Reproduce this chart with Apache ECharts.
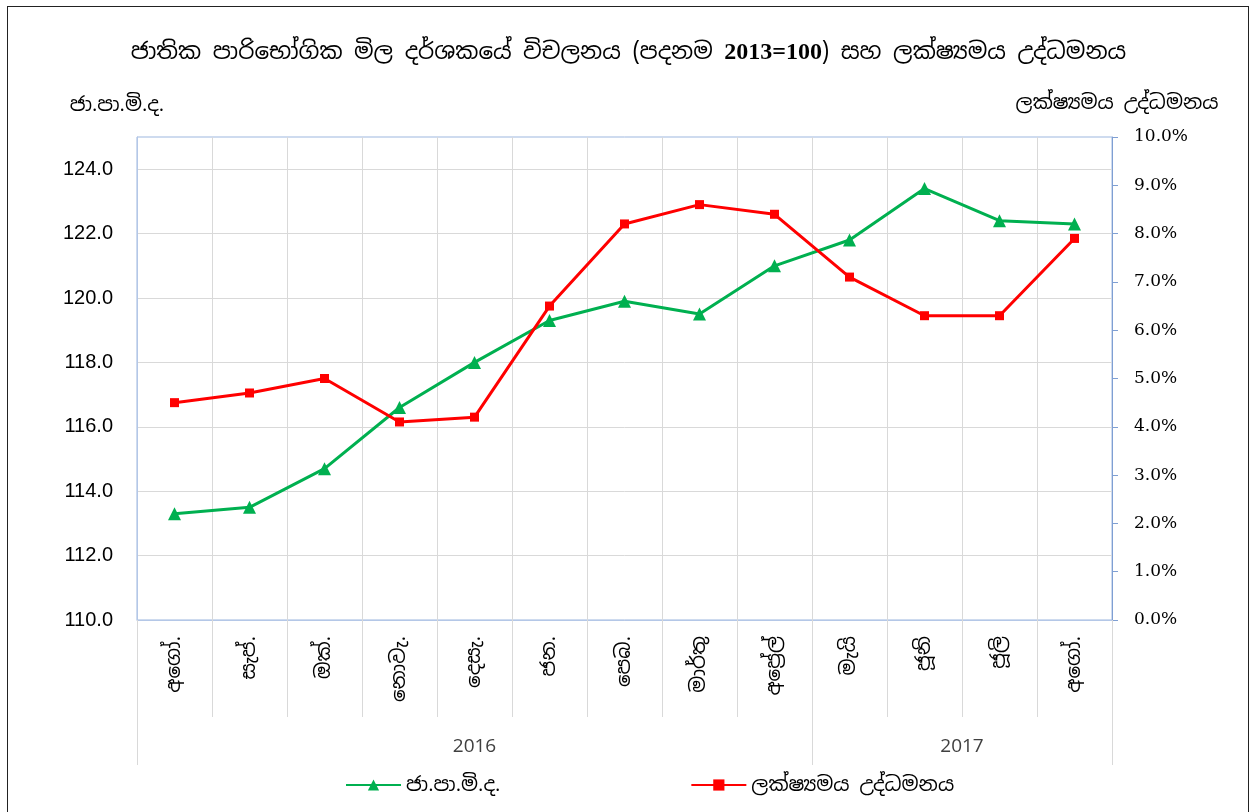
<!DOCTYPE html>
<html>
<head>
<meta charset="utf-8">
<script src="https://cdn.jsdelivr.net/npm/echarts@6/dist/echarts.min.js"></script>
<style>
  html, body { margin: 0; padding: 0; background: #fff; }
  #main { width: 1257px; height: 812px; position: relative; }
  #frame { position: absolute; left: 7px; top: 6px; width: 1242px; height: 812px; border: 1px solid #222; box-sizing: border-box; pointer-events: none; }
</style>
</head>
<body>
<div id="main"></div>
<div id="frame"></div>
<script>
// ---- data ----
const months = ['අගෝ.', 'සැප්.', 'ඔක්.', 'නොවැ.', 'දෙසැ.', 'ජන.', 'පෙබ.', 'මාර්තු', 'අප්‍රේල්', 'මැයි', 'ජූනි', 'ජූලි', 'අගෝ.'];
const cpiName = 'ජා.පා.මි.ද.';
const inflName = 'ලක්ෂ්‍යමය උද්ධමනය';
const cpiValues = [113.3, 113.5, 114.7, 116.6, 118.0, 119.3, 119.9, 119.5, 121.0, 121.8, 123.4, 122.4, 122.3];
const inflValues = [4.5, 4.7, 5.0, 4.1, 4.2, 6.5, 8.2, 8.6, 8.4, 7.1, 6.3, 6.3, 7.9];
const years = ['2016', '2017'];
const yearStartIndex = [0, 9];      // category index where each year group starts
const titleText = 'ජාතික පාරිභෝගික මිල දර්ශකයේ විචලනය (පදනම ';
const titleBold = '2013=100';
const titleTail = ') සහ ලක්ෂ්‍යමය උද්ධමනය';

const SIN = "'Noto Sans Sinhala','Noto Serif Sinhala','Iskoola Pota','Lohit Sinhala',serif";
const n = months.length;
const yearBounds = yearStartIndex.concat([n]);
const yearCenters = years.map((y, i) => (yearBounds[i] + yearBounds[i + 1]) / 2);

const chart = echarts.init(document.getElementById('main'), null, { renderer: 'canvas' });
chart.setOption({
  backgroundColor: '#fff',
  animation: false,
  title: {
    text: '{a|' + titleText + '}{b|' + titleBold + '}{a|' + titleTail + '}',
    left: 'center',
    top: 36,
    textStyle: {
      fontWeight: 'normal',
      rich: {
        a: { fontFamily: SIN, fontSize: 23, fontWeight: 'normal', color: '#000' },
        b: { fontFamily: "'Liberation Serif',serif", fontSize: 24, fontWeight: 'bold', color: '#000' }
      }
    }
  },
  legend: {
    left: 340,
    top: 770,
    itemWidth: 55,
    itemHeight: 14,
    itemGap: 190,
    textStyle: { fontFamily: SIN, fontSize: 20, color: '#000' },
    data: [cpiName, inflName]
  },
  grid: {
    left: 137, right: 145, top: 137, bottom: 192,
    show: true, borderColor: '#9DB7DF', borderWidth: 1, backgroundColor: 'transparent'
  },
  xAxis: [
    {
      type: 'category',
      data: months,
      boundaryGap: true,
      axisLine: { show: true, lineStyle: { color: '#B4C7E7', width: 1 } },
      axisTick: { show: true, length: 97, lineStyle: { color: '#D9D9D9' } },
      axisLabel: { rotate: 90, margin: 16, fontFamily: SIN, fontSize: 20, color: '#000', interval: 0 },
      splitLine: { show: true, lineStyle: { color: '#D9D9D9' } }
    },
    {
      type: 'value',
      position: 'bottom',
      min: 0,
      max: n,
      axisLine: { show: false },
      axisTick: { show: true, length: 145, customValues: yearBounds, lineStyle: { color: '#D9D9D9' } },
      axisLabel: {
        show: true, margin: 117, customValues: yearCenters,
        formatter: function (v) { const i = yearCenters.indexOf(v); return i >= 0 ? years[i] : ''; },
        fontFamily: "'Open Sans','Liberation Sans',sans-serif", fontSize: 19, color: '#404040'
      },
      splitLine: { show: false }
    }
  ],
  yAxis: [
    {
      type: 'value',
      name: cpiName,
      nameLocation: 'end',
      nameGap: 22,
      nameTextStyle: { fontFamily: SIN, fontSize: 20, color: '#000', align: 'center', padding: [0, 0, 0, -40] },
      min: 110, max: 125, interval: 2,
      axisLine: { show: true, lineStyle: { color: '#B4C7E7' } },
      axisTick: { show: false },
      axisLabel: {
        margin: 24, fontFamily: "'Liberation Sans',Arial,sans-serif", fontSize: 20, color: '#000',
        showMaxLabel: false,
        formatter: function (v) { return v.toFixed(1); }
      },
      splitLine: { show: true, showMaxLine: false, lineStyle: { color: '#D9D9D9' } }
    },
    {
      type: 'value',
      name: inflName,
      nameLocation: 'end',
      nameGap: 24,
      nameTextStyle: { fontFamily: SIN, fontSize: 20, color: '#000', align: 'center', padding: [0, 0, 0, 10] },
      min: 0, max: 10, interval: 1,
      position: 'right',
      axisLine: { show: true, lineStyle: { color: '#7F9FD3' } },
      axisTick: { show: true, length: 6, lineStyle: { color: '#7F9FD3' } },
      axisLabel: {
        margin: 22, fontFamily: "'DejaVu Serif',serif", fontSize: 17, color: '#000',
        formatter: function (v) { return v.toFixed(1) + '%'; }
      },
      splitLine: { show: false }
    }
  ],
  series: [
    {
      name: cpiName,
      type: 'line',
      xAxisIndex: 0,
      yAxisIndex: 0,
      data: cpiValues,
      symbol: 'triangle',
      symbolSize: 13,
      lineStyle: { color: '#00B050', width: 3 },
      itemStyle: { color: '#00B050' }
    },
    {
      name: inflName,
      type: 'line',
      xAxisIndex: 0,
      yAxisIndex: 1,
      data: inflValues,
      symbol: 'rect',
      symbolSize: 9,
      lineStyle: { color: '#FF0000', width: 3 },
      itemStyle: { color: '#FF0000' }
    }
  ]
});
</script>
</body>
</html>
